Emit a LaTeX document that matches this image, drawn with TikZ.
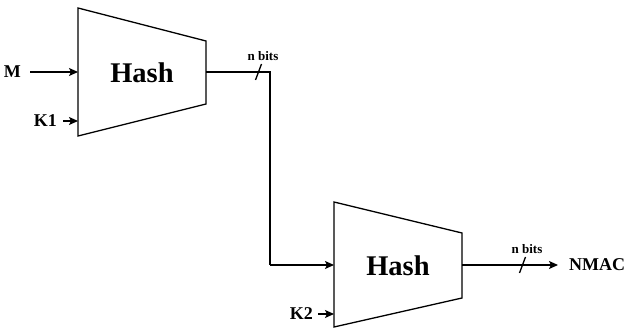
\documentclass[tikz,border=0pt]{standalone}
\usepackage{fontspec}
\setmainfont{Liberation Serif}
\usetikzlibrary{arrows.meta}
\begin{document}
\begin{tikzpicture}[x=1pt,y=-1pt,
  box/.style={line width=1.3pt, line join=miter},
  wire/.style={line width=1.3pt},
  arr/.style={wire, -{Stealth[length=9pt,width=8pt,inset=2pt]}},
  hashtxt/.style={font=\fontsize{28.5}{30}\selectfont\bfseries, inner sep=0pt},
  lbl/.style={font=\fontsize{18}{20}\selectfont\bfseries, inner sep=0pt},
  bits/.style={font=\fontsize{13}{14}\selectfont\bfseries, inner sep=0pt},
  slash/.style={line width=1.3pt}]
\useasboundingbox (0,0) rectangle (624,328);
% top hash
\draw[box] (78,8) -- (206,41) -- (206,104) -- (78,136) -- cycle;
\node[hashtxt] (h1) at (142,73) {Hash};
\coordinate (h1in) at (78,72);
\coordinate (h1k) at (78,121);
\coordinate (h1out) at (206,72);
\coordinate (bend1) at (270,72);
\coordinate (bend2) at (270,265);
% bottom hash
\draw[box] (334,202) -- (462,233) -- (462,298) -- (334,327) -- cycle;
\node[hashtxt] (h2) at (398,266) {Hash};
\coordinate (h2in) at (334,265);
\coordinate (h2k) at (334,314);
\coordinate (h2out) at (462,265);
% labels
\node[lbl, anchor=east] (m) at (21,72) {M};
\node[lbl, anchor=east] (k1) at (57,121) {K1};
\node[lbl, anchor=east] (k2) at (313,314) {K2};
\node[lbl, anchor=west] (nmac) at (569,265) {NMAC};
\node[bits] (b1) at (263,56) {n bits};
\node[bits] (b2) at (527,249) {n bits};
% connectors
\draw[arr] ([xshift=9pt]m.east) -- (h1in);
\draw[arr] ([xshift=6pt]k1.east) -- (h1k);
\draw[arr] ([xshift=5pt]k2.east) -- (h2k);
\draw[wire] (h1out) -- (bend1) -- (bend2);
\draw[arr] (bend2) -- (h2in);
\draw[arr] (h2out) -- ([xshift=-11pt]nmac.west);
% bit slashes
\draw[slash] (255.5,80) -- (261.5,64);
\draw[slash] (519.5,273) -- (525.5,257);
\end{tikzpicture}
\end{document}
